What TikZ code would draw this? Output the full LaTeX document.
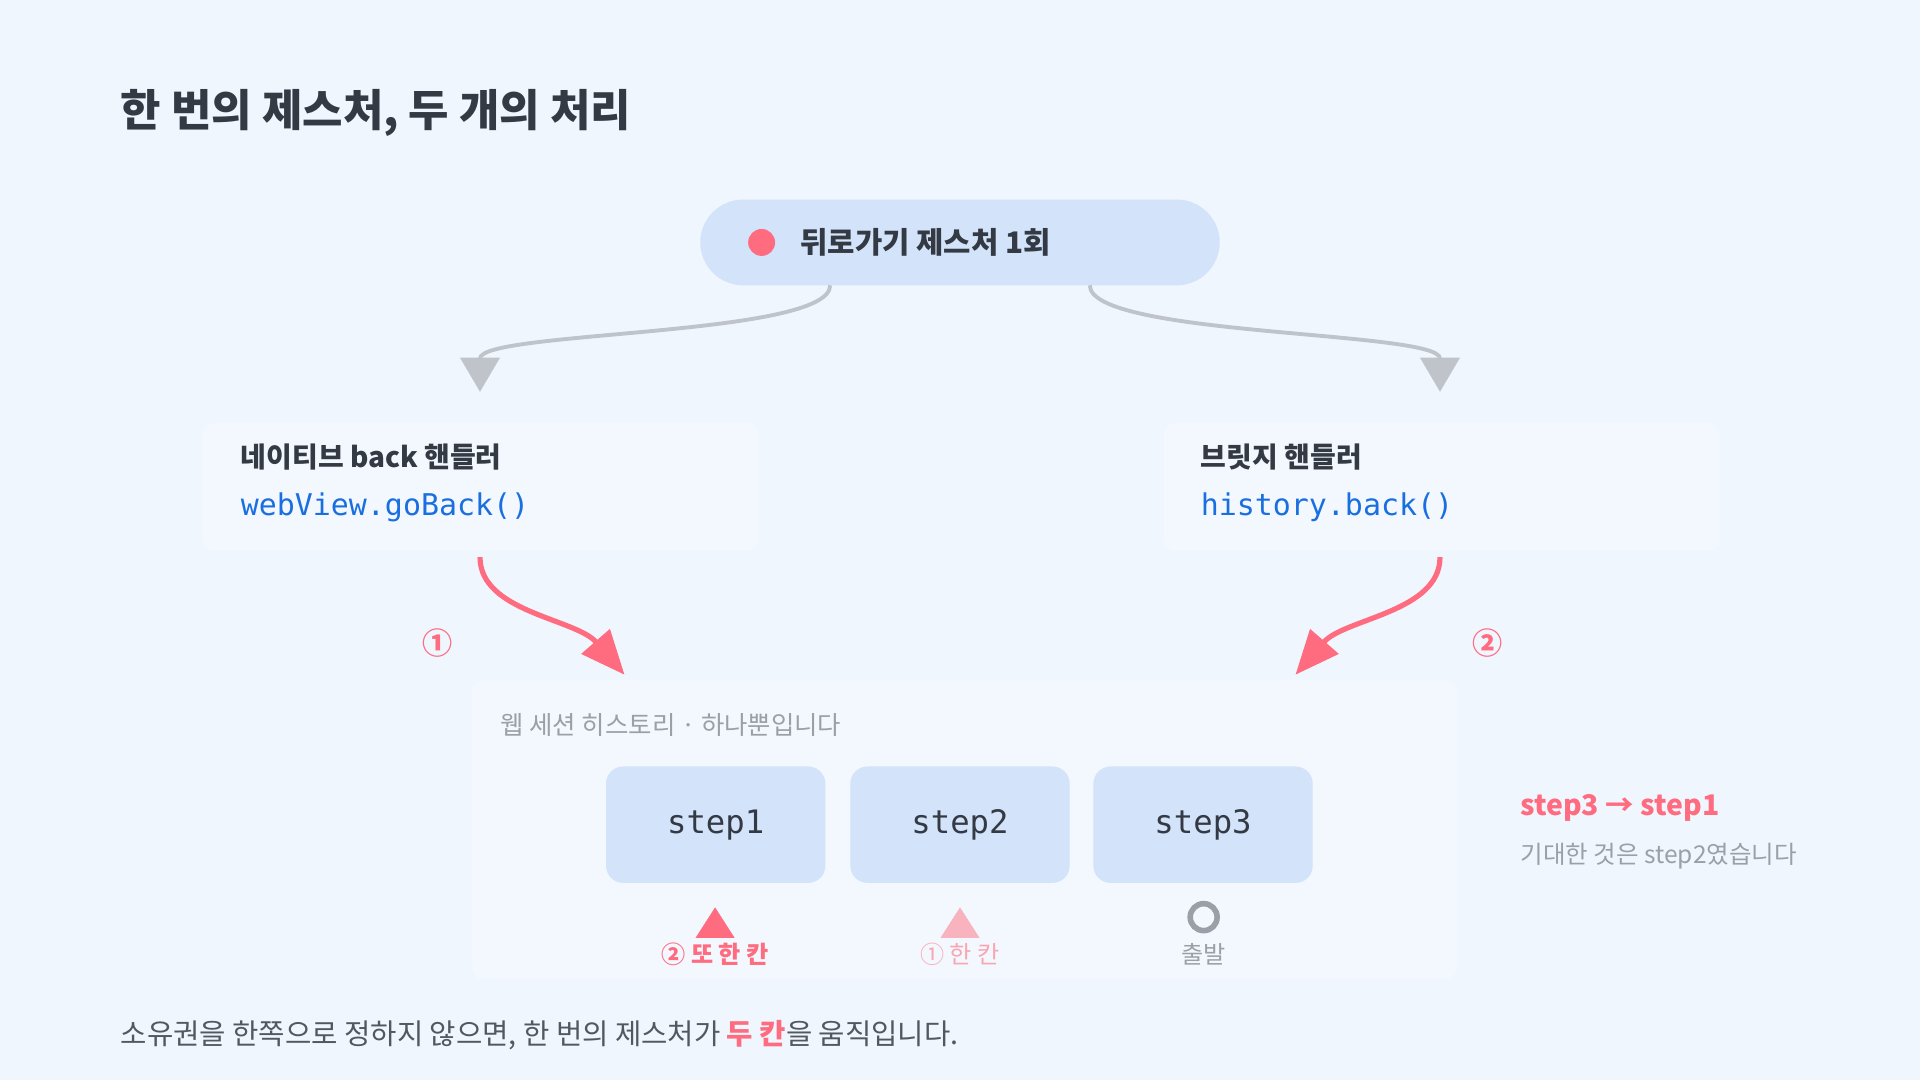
\documentclass[tikz,border=0pt]{standalone}
\usepackage{fontspec}
\setmainfont{Noto Sans CJK KR}
\newfontfamily\codefont{DejaVu Sans Mono}
\usetikzlibrary{positioning,arrows.meta}
\definecolor{bgc}{HTML}{F0F6FE}
\definecolor{cardc}{HTML}{F3F7FE}
\definecolor{boxc}{HTML}{D2E3FA}
\definecolor{inkc}{HTML}{343A44}
\definecolor{redc}{HTML}{FF6B7F}
\definecolor{pinkc}{HTML}{F9B3BE}
\definecolor{grayc}{HTML}{9AA0A8}
\definecolor{linec}{HTML}{BFC3CA}
\definecolor{bluec}{HTML}{1A6FE0}
\tikzset{
  stepbox/.style={draw=none, fill=boxc, rounded corners=0.14cm, minimum width=1.79cm, minimum height=0.95cm, font=\codefont\fontsize{7.5}{9}\selectfont, text=inkc},
  card/.style={fill=cardc, rounded corners=0.1cm},
  lefttext/.style={anchor=west, inner sep=0pt},
  head/.style={lefttext, font=\bfseries\fontsize{6.5}{8}\selectfont, text=inkc},
  code/.style={lefttext, font=\codefont\fontsize{6.95}{9}\selectfont, text=bluec},
  note/.style={font=\fontsize{5.6}{7}\selectfont},
  grayarrow/.style={draw=linec, line width=0.9pt, -{Triangle[width=0.32cm,length=0.28cm]}},
  redarrow/.style={draw=redc, line width=1.2pt, -{Triangle[width=0.3cm,length=0.36cm]}}
}
\begin{document}
\begin{tikzpicture}[x=0.01cm,y=-0.01cm]
        % background
        \fill[bgc] (0,0) rectangle (1568,882);
        \node[lefttext, font=\bfseries\fontsize{10.2}{12}\selectfont, text=inkc] (title) at (98,92) {한 번의 제스처, 두 개의 처리};
        % gesture
        \node[fill=boxc, rounded corners=0.35cm, minimum width=4.24cm, minimum height=0.7cm] (gesture) at (784,198) {};
        \fill[redc] (622,198) circle (11);
        \node[head, font=\bfseries\fontsize{6.9}{8}\selectfont] (gtext) at (653,198) {뒤로가기 제스처 1회};
        \coordinate (gl) at (678,233);
        \coordinate (gr) at (890,233);
        % handlers
        \fill[card] (165,345) rectangle (620,450);
        \fill[card] (950,345) rectangle (1405,450);
        \node[head] (nhead) at (196,373) {네이티브 back 핸들러};
        \node[code] (ncode) at (196,414) {webView.goBack()};
        \node[head] (bhead) at (980,373) {브릿지 핸들러};
        \node[code] (bcode) at (980,414) {history.back()};
        \coordinate (nin) at (392,320);
        \coordinate (bin) at (1176,320);
        \draw[grayarrow] (gl) .. controls (678,275) and (392,270) .. (nin);
        \draw[grayarrow] (gr) .. controls (890,275) and (1176,270) .. (bin);
        % history
        \fill[card] (385,555) rectangle (1190,800);
        \node[lefttext, text=grayc, font=\fontsize{5.9}{8}\selectfont] (hist) at (408,592) {웹 세션 히스토리 · 하나뿐입니다};
        \node[stepbox] (s1) at (584.5,673.5) {step1};
        \node[stepbox] (s2) at (784,673.5) {step2};
        \node[stepbox] (s3) at (982.5,673.5) {step3};
        \coordinate (nout) at (392,455);
        \coordinate (bout) at (1176,455);
        \coordinate (hl) at (510,551);
        \coordinate (hr) at (1058,551);
        \draw[redarrow] (nout) .. controls (392,500) and (470,505) .. (hl);
        \draw[redarrow] (bout) .. controls (1176,500) and (1098,505) .. (hr);
        \node[text=redc, font=\bfseries\fontsize{7}{8}\selectfont] (one) at (357,525) {①};
        \node[text=redc, font=\bfseries\fontsize{7}{8}\selectfont] (two) at (1215,525) {②};
        % markers
        \fill[redc] (584,741) -- (600,766) -- (568,766) -- cycle;
        \fill[pinkc] (784,741) -- (800,766) -- (768,766) -- cycle;
        \draw[grayc, line width=1.3pt] (983,749) circle (11);
        \node[note, text=redc, font=\bfseries\fontsize{5.6}{7}\selectfont] (m1) at (584,779) {② 또 한 칸};
        \node[note, text=pinkc!80!redc] (m2) at (784,779) {① 한 칸};
        \node[note, text=grayc] (m3) at (983,779) {출발};
        % result
        \node[lefttext, text=redc, font=\bfseries\fontsize{6.6}{8}\selectfont] (res) at (1241,660) {step3 → step1};
        \node[lefttext, text=grayc, font=\fontsize{5.7}{8}\selectfont] (exp) at (1241,699) {기대한 것은 step2였습니다};
        % footer
        \node[lefttext, text=inkc!85, font=\fontsize{6.65}{8}\selectfont] (foot) at (98,845) {소유권을 한쪽으로 정하지 않으면, 한 번의 제스처가 \textcolor{redc}{\bfseries 두 칸}을 움직입니다.};
\end{tikzpicture}
\end{document}
